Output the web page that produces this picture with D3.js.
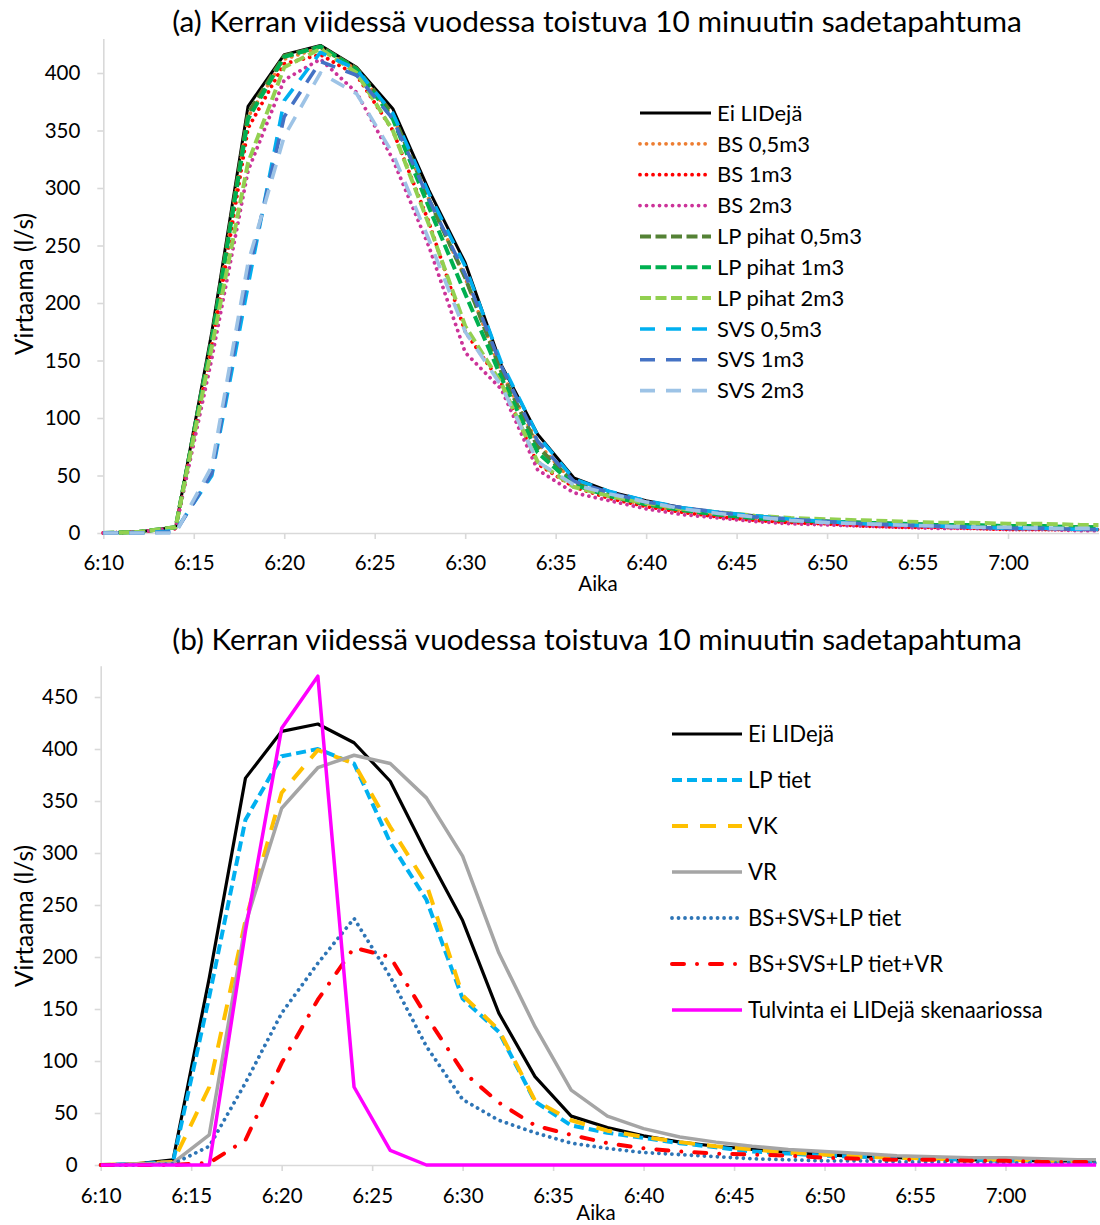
<!DOCTYPE html>
<html><head><meta charset="utf-8">
<script src="https://cdn.jsdelivr.net/npm/d3@7"></script>
<style>
body{margin:0;background:#fff}
svg{display:block}
text{font-family:Lato,'Open Sans',sans-serif;fill:#000}
</style>
</head><body>
<svg id="c" width="1100" height="1225"></svg>
<script>
// ---------- DATA ----------
const minutes = [0,2,4,6,8,10,12,14,16,18,20,22,24,26,28,30,32,34,36,38,40,42,44,46,48,50,52,54,55];
const tickMinutes = [0,5,10,15,20,25,30,35,40,45,50];
const tickLabels = ["6:10","6:15","6:20","6:25","6:30","6:35","6:40","6:45","6:50","6:55","7:00"];
const yTicksA = [0,50,100,150,200,250,300,350,400];
const yTicksB = [0,50,100,150,200,250,300,350,400,450];

// (a)
const namesA = ["Ei LIDejä","BS 0,5m3","BS 1m3","BS 2m3","LP pihat 0,5m3","LP pihat 1m3","LP pihat 2m3","SVS 0,5m3","SVS 1m3","SVS 2m3"];
const eiLidA = [0,1,5,175,371,416,424,405,369,298,235,146,86,48,36,28,22,18,15,12,10,8,7,6,5,4,4,3,3];
const bs05   = [0,1,4,165,362,412,422,403,362,290,222,140,78,44,32,24,19,15,12,10,8,7,6,5,4,4,3,3,3];
const bs1    = [0,1,4,160,352,408,416,398,350,270,175,130,60,40,30,23,18,14,11,9,8,6,5,5,4,3,3,3,3];
const bs2    = [0,1,4,152,315,394,412,383,325,249,157,125,55,35,28,21,16,13,10,8,7,6,5,4,4,3,3,2,2];
const lp05   = [0,1,5,170,365,415,423,404,364,290,222,140,75,44,33,25,20,16,13,11,10,9,8,7,6,6,5,5,5];
const lp1    = [0,1,5,168,360,414,423,403,360,283,208,135,70,42,32,25,20,16,13,11,10,9,8,7,7,6,6,5,5];
const lp2    = [0,1,5,162,322,405,421,400,350,268,180,130,62,40,32,26,21,18,15,13,12,11,10,9,9,8,8,7,7];
const svs05  = [0,0,2,50,215,376,418,403,365,295,232,148,85,47,36,28,22,18,15,12,10,8,7,6,5,4,4,3,3];
const svs1   = [0,0,1,52,225,362,410,398,360,290,225,145,80,45,35,27,22,18,14,12,10,8,7,6,5,4,4,3,3];
const svs2   = [0,0,0,58,235,345,400,382,330,255,175,128,62,42,34,27,21,17,14,11,9,8,7,6,5,5,4,4,4];
const valuesA = [eiLidA,bs05,bs1,bs2,lp05,lp1,lp2,svs05,svs1,svs2];

// (b)
const namesB = ["Ei LIDejä","LP tiet","VK","VR","BS+SVS+LP tiet","BS+SVS+LP tiet+VR","Tulvinta ei LIDejä skenaariossa"];
const eiLidB    = [0,1,5,180,372,417,424,406,369,300,235,146,85,47,36,28,22,18,15,12,10,8,7,6,5,5,4,4,4];
const lpTiet    = [0,1,3,162,332,393,400,386,310,255,160,128,61,38,31,26,21,17,13,11,9,8,7,6,5,4,4,3,3];
const vk        = [0,1,3,75,235,358,399,386,325,270,163,130,62,43,33,27,22,18,15,12,10,8,7,6,5,5,4,4,4];
const vr        = [0,1,2,29,232,343,382,394,386,353,297,204,133,72,47,35,27,22,18,15,13,11,9,8,7,7,6,5,5];
const bsSvsLp   = [0,0,1,18,79,146,194,237,181,114,63,43,31,21,16,12,10,8,6,5,4,4,3,3,3,2,2,2,2];
const bsSvsLpVr = [0,0,0,2,24,98,159,209,200,143,90,60,38,29,21,16,13,11,10,9,7,6,5,5,4,4,3,3,3];
const tulvinta  = [0,0,0,0,225,420,470,75,14,0,0,0,0,0,0,0,0,0,0,0,0,0,0,0,0,0,0,0,0];
const valuesB = [eiLidB,lpTiet,vk,vr,bsSvsLp,bsSvsLpVr,tulvinta];

// ---------- STYLES ----------
const DOT = {dash:"0.01 6.5", cap:"round", w:3.8};
const stylesA = [
  {c:"#000000", w:3, dash:null, cap:"butt"},
  {c:"#ED7D31", ...DOT},
  {c:"#FF0000", ...DOT},
  {c:"#CC3399", ...DOT},
  {c:"#548235", w:4, dash:"11 4.5", cap:"butt"},
  {c:"#00B050", w:4, dash:"11 4.5", cap:"butt"},
  {c:"#92D050", w:4, dash:"11 4.5", cap:"butt"},
  {c:"#00B0F0", w:3.6, dash:"15 11", cap:"butt"},
  {c:"#4472C4", w:3.6, dash:"15 11", cap:"butt"},
  {c:"#9DC3E6", w:3.6, dash:"15 11", cap:"butt"}
];
const stylesB = [
  {c:"#000000", w:3.2, dash:null, cap:"butt"},
  {c:"#00B0F0", w:4, dash:"10 5", cap:"butt"},
  {c:"#FFC000", w:4, dash:"16 12", cap:"butt"},
  {c:"#A5A5A5", w:3.5, dash:null, cap:"butt"},
  {c:"#2E75B6", w:3.8, dash:"0.01 6.5", cap:"round"},
  {c:"#FF0000", w:4, dash:"12 13 0.01 13", cap:"round"},
  {c:"#FF00FF", w:3.5, dash:null, cap:"butt"}
];

const svg = d3.select("#c");
const AXC = "#d9d9d9";

function fit(sel, target, base){
  sel.style("font-size", base+"px");
  const w = sel.node().getComputedTextLength();
  const fs = base*target/w;
  sel.style("font-size", fs+"px");
  return fs;
}

function drawChart(cfg){
  const g = svg.append("g");
  const x = d3.scaleLinear().domain([0,55]).range(cfg.xr);
  const y = d3.scaleLinear().domain([0,cfg.ymax]).range(cfg.yr);

  const t = g.append("text").attr("x", cfg.titleX).attr("y", cfg.titleY)
    .attr("text-anchor","middle").attr("dy","0.35em").text(cfg.title);
  fit(t, 850, 24);

  const ya = g.append("g").attr("transform",`translate(${cfg.xr[0]},0)`)
    .call(d3.axisLeft(y).tickValues(cfg.yTicks).tickSize(6).tickSizeOuter(0).tickPadding(17));
  ya.select(".domain").attr("stroke",AXC).attr("stroke-width",1.6);
  ya.selectAll(".tick line").attr("stroke",AXC).attr("stroke-width",1.6);
  ya.selectAll(".tick text").style("font-family","Lato,'Open Sans',sans-serif").style("font-size","20.5px").attr("fill","#000");

  const xa = g.append("g").attr("transform",`translate(0,${cfg.yr[0]})`)
    .call(d3.axisBottom(x).tickValues(tickMinutes).tickFormat((d,i)=>tickLabels[i]).tickSize(6).tickSizeOuter(0).tickPadding(cfg.xPad));
  xa.select(".domain").attr("stroke",AXC).attr("stroke-width",1.6);
  xa.selectAll(".tick line").attr("stroke",AXC).attr("stroke-width",1.6);
  xa.selectAll(".tick text").style("font-family","Lato,'Open Sans',sans-serif").style("font-size","20.5px").attr("fill","#000");

  const yt = g.append("text").attr("transform",`translate(${cfg.yTitle[0]},${cfg.yTitle[1]}) rotate(-90)`)
    .attr("text-anchor","middle").attr("dy","0.35em").text("Virtaama (l/s)");
  fit(yt, 142, 20);
  const xt = g.append("text").attr("x",cfg.xTitle[0]).attr("y",cfg.xTitle[1])
    .attr("text-anchor","middle").attr("dy","0.35em").text("Aika");
  xt.style("font-size", "20.5px");

  const line = d3.line().x((d,i)=>x(minutes[i])).y(d=>y(d));
  cfg.values.forEach((vals,k)=>{
    const s = cfg.styles[k];
    g.append("path").datum(vals).attr("d",line).attr("fill","none")
      .attr("stroke",s.c).attr("stroke-width",s.w)
      .attr("stroke-dasharray",s.dash).attr("stroke-linecap",s.cap)
      .attr("stroke-linejoin","round");
  });

  const lg = g.append("g");
  let fs = null;
  cfg.names.forEach((n,k)=>{
    const s = cfg.styles[k];
    const yy = cfg.leg.y0 + k*cfg.leg.dy;
    lg.append("line").attr("x1",cfg.leg.x0).attr("x2",cfg.leg.x0+cfg.leg.len)
      .attr("y1",yy).attr("y2",yy).attr("stroke",s.c).attr("stroke-width",s.w)
      .attr("stroke-dasharray",s.dash).attr("stroke-linecap",s.cap);
    const tx = lg.append("text").attr("x",cfg.leg.tx).attr("y",yy).attr("dy","0.35em").text(n);
    if(k===cfg.leg.refIdx) fs = fit(tx, cfg.leg.refW, 20);
  });
  lg.selectAll("text").style("font-size", fs+"px");
}

drawChart({
  title:"(a) Kerran viidessä vuodessa toistuva 10 minuutin sadetapahtuma",
  titleX:597, titleY:22,
  xr:[103.3,1098.5], yr:[533,38.5], ymax:430, yTicks:yTicksA, xPad:16,
  yTitle:[24,284], xTitle:[598,584],
  values:valuesA, styles:stylesA, names:namesA,
  leg:{x0:640, len:71, tx:717, y0:113, dy:30.85, refIdx:4, refW:145}
});
drawChart({
  title:"(b) Kerran viidessä vuodessa toistuva 10 minuutin sadetapahtuma",
  titleX:597, titleY:640,
  xr:[100.7,1096], yr:[1165,665.8], ymax:480, yTicks:yTicksB, xPad:17,
  yTitle:[24,916], xTitle:[596,1213],
  values:valuesB, styles:stylesB, names:namesB,
  leg:{x0:672, len:70, tx:748, y0:734, dy:46, refIdx:6, refW:295}
});
</script>
</body></html>
